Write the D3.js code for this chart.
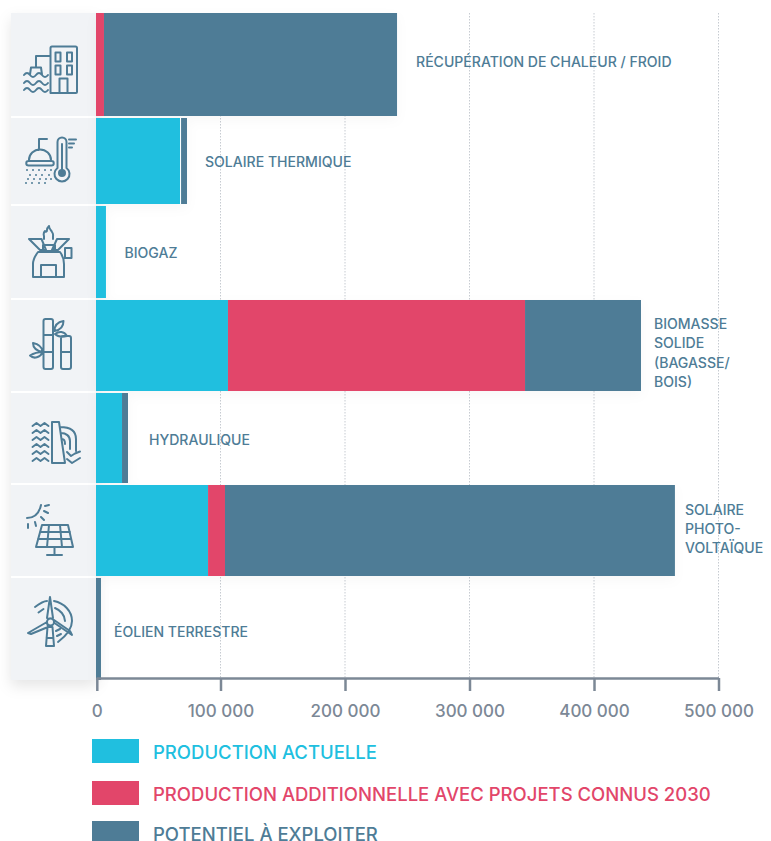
<!DOCTYPE html>
<html>
<head>
<meta charset="utf-8">
<script src="https://cdnjs.cloudflare.com/ajax/libs/d3/7.8.5/d3.min.js"></script>
<style>
  html, body { margin: 0; padding: 0; background: #fff; overflow: hidden; }
  svg { display: block; }
  text { font-family: Inter, "Noto Sans", sans-serif; }
</style>
</head>
<body>
<svg id="svg1" width="771" height="841"></svg>
<script>
var categories = ['RÉCUPÉRATION DE CHALEUR / FROID', 'SOLAIRE THERMIQUE', 'BIOGAZ',
  'BIOMASSE SOLIDE (BAGASSE/ BOIS)', 'HYDRAULIQUE', 'SOLAIRE PHOTO- VOLTAÏQUE', 'ÉOLIEN TERRESTRE'];
var production = [0, 68300, 8000, 106000, 20900, 90000, 0];
var additional = [6400, 0, 0, 238600, 0, 13600, 0];
var potential = [235400, 4800, 0, 93150, 4800, 361400, 4000];
var seriesKeys = ['production', 'additional', 'potential'];
var seriesNames = ['PRODUCTION ACTUELLE', 'PRODUCTION ADDITIONNELLE AVEC PROJETS CONNUS 2030', 'POTENTIEL À EXPLOITER'];
var seriesColors = ['#20bfdf', '#e2466a', '#4e7c96'];
var tickValues = [0, 100000, 200000, 300000, 400000, 500000];

// label lines, the long names wrap in the original
var labelLines = [['RÉCUPÉRATION DE CHALEUR / FROID'], ['SOLAIRE THERMIQUE'], ['BIOGAZ'],
  ['BIOMASSE', 'SOLIDE', '(BAGASSE/', 'BOIS)'], ['HYDRAULIQUE'], ['SOLAIRE', 'PHOTO-', 'VOLTAÏQUE'], ['ÉOLIEN TERRESTRE']];
var labelGap = [19, 18, 18.5, 13, 21, 10, 13];
var labelMid = [62, 162, 253, 353, 440, 529, 632];

// rows are not all the same height
var rowTop = [13, 118, 206, 300, 393, 485, 578];
var rowBottom = [116, 204, 298, 391, 483, 576, 680];

var svg = d3.select('svg');
var blue = seriesColors[2];

var defs = svg.append('defs');
var shadow = defs.append('filter').attr('id', 'panelShadow')
    .attr('x', '-30%').attr('y', '-10%').attr('width', '160%').attr('height', '120%');
shadow.append('feDropShadow').attr('dx', 0).attr('dy', 6).attr('stdDeviation', 7)
    .attr('flood-color', '#000').attr('flood-opacity', 0.1);
var soft = defs.append('filter').attr('id', 'softShadow')
    .attr('x', '-10%').attr('y', '-10%').attr('width', '120%').attr('height', '120%');
soft.append('feDropShadow').attr('dx', 0).attr('dy', 4).attr('stdDeviation', 6)
    .attr('flood-color', '#000').attr('flood-opacity', 0.05);

var x = d3.scaleLinear().domain([0, 500000]).range([96, 718.5]);
var yTop = d3.scaleOrdinal().domain(categories).range(rowTop);
var yBottom = d3.scaleOrdinal().domain(categories).range(rowBottom);

var rows = categories.map(function(c, i) {
  return {name: c, production: production[i], additional: additional[i], potential: potential[i]};
});

var stack = d3.stack().keys(seriesKeys)(rows);

//grey icon column with its shadow
svg.append('rect').attr('x', 11).attr('y', 13).attr('width', 85).attr('height', 667)
    .attr('fill', '#f1f3f6').attr('filter', 'url(#panelShadow)');
svg.selectAll('.sep').data(rowBottom.slice(0, -1)).enter().append('rect')
    .attr('x', 11).attr('width', 85)
    .attr('y', function(d) { return d; })
    .attr('height', 2).attr('fill', '#fff');

//dotted grid
svg.selectAll('.grid').data(tickValues.slice(1)).enter().append('line')
    .attr('x1', function(d) { return x(d); })
    .attr('x2', function(d) { return x(d); })
    .attr('y1', 13).attr('y2', 678)
    .attr('stroke', '#c6cbd1').attr('stroke-width', 1).attr('stroke-dasharray', '1.5 1.5');

//soft shadow under the bars
var under = svg.append('g').attr('filter', 'url(#softShadow)');
under.selectAll('rect').data(rows).enter().append('rect')
    .attr('x', x(0))
    .attr('y', function(d) { return yTop(d.name); })
    .attr('width', function(d) { return x(d.production + d.additional + d.potential) - x(0); })
    .attr('height', function(d) { return yBottom(d.name) - yTop(d.name); })
    .attr('fill', '#fff').attr('fill-opacity', 0.6);

//stacked bars
svg.selectAll('.serie').data(stack).enter().append('g')
    .attr('class', 'serie')
    .attr('fill', function(d, i) { return seriesColors[i]; })
    .selectAll('rect').data(function(d) { return d; }).enter().append('rect')
    .attr('x', function(d) { return x(d[0]); })
    .attr('y', function(d) { return yTop(d.data.name); })
    .attr('width', function(d) { return x(d[1]) - x(d[0]); })
    .attr('height', function(d) { return yBottom(d.data.name) - yTop(d.data.name); });

//white hairline on solaire thermique between the two parts
svg.append('line')
    .attr('x1', x(production[1]) - 0.5).attr('x2', x(production[1]) - 0.5)
    .attr('y1', rowTop[1]).attr('y2', rowBottom[1])
    .attr('stroke', '#fff').attr('stroke-width', 1);

//axis
var nf = d3.formatLocale({decimal: ',', thousands: ' ', grouping: [3], currency: ['', '']}).format(',d');
var axis = svg.append('g').attr('transform', 'translate(0,678)')
    .call(d3.axisBottom(x).tickValues(tickValues).tickFormat(nf).tickSize(13).tickSizeOuter(0).tickPadding(14));
axis.select('.domain').attr('stroke', '#7c8896').attr('stroke-width', 2.5);
axis.selectAll('.tick line').attr('stroke', '#7c8896').attr('stroke-width', 2.5);
axis.selectAll('.tick text').attr('fill', '#7c8896').attr('font-size', 17).attr('font-weight', 500)
    .style('font-family', 'Inter, sans-serif');
//zero tick sits a bit inside the line start in the original
axis.selectAll('.tick').filter(function(d) { return d === 0; })
    .attr('transform', 'translate(' + (x(0) + 1.3) + ',0)');

//category labels
categories.forEach(function(c, i) {
  var total = production[i] + additional[i] + potential[i];
  var lines = labelLines[i];
  var t = svg.append('text').attr('fill', blue).attr('font-size', 14.05).attr('font-weight', 500);
  lines.forEach(function(l, j) {
    t.append('tspan')
        .attr('x', x(total) + labelGap[i])
        .attr('y', labelMid[i] + 5 + (j - (lines.length - 1) / 2) * 19.3)
        .text(l);
  });
});

//legend
var legendY = d3.scaleOrdinal().domain(seriesKeys).range([751, 793, 833]);
var legend = svg.selectAll('.legend').data(seriesKeys).enter().append('g')
    .attr('transform', function(d) { return 'translate(92,' + legendY(d) + ')'; });
legend.append('rect').attr('x', 0).attr('y', -12).attr('width', 47).attr('height', 24)
    .attr('fill', function(d, i) { return seriesColors[i]; });
legend.append('text').attr('x', 61).attr('y', 8)
    .attr('font-size', 18.5).attr('font-weight', 500)
    .attr('fill', function(d, i) { return seriesColors[i]; })
    .text(function(d, i) { return seriesNames[i]; });

//icons, plain stroked paths
var icons = [
  // building and boat on waves
  'M52 46.5H75.5a1.5 1.5 0 0 1 1.5 1.5V92a1 1 0 0 1-1 1H50.5V48a1.5 1.5 0 0 1 1.5-1.5Z' +
  'M55.5 52.5h5v9h-5ZM67 52.5h5v9h-5ZM55.5 65.5h5v9h-5ZM67 65.5h5v9h-5ZM59.5 93V78.5h8V93' +
  'M50.5 56H36V67M31 67.5h10l1 7M31 67.5l-1 7' +
  'M24 75q3-4 6 0t6 0 6 0 6 0M24 83q3-4 6 0t6 0 6 0 6 0M24 90q3-4 6 0t6 0 6 0 6 0',
  // shower and thermometer
  'M47 139H39V150M29 160a11 10.5 0 0 1 22 0M28.5 161H51.5a2 2 0 0 1 0 4.5H28.5a2 2 0 0 1 0-4.5Z' +
  'M57.5 168V142a4.5 4.5 0 0 1 9 0V168a7.5 7.5 0 1 1-9 0ZM62 144V170' +
  'M69 139.5H76M69 143.5H74M69 147.5H72',
  // burner
  'M29 239H41.5L46 250H40ZM69 239H57L52 250H58Z' +
  'M44 239V236a5 5 0 0 1 1-5c1 1 2 1 2-1 0-2 1-3 2-4 0 3 2 4 3 6a5 5 0 0 1 1 4V239M43 245H55V251H43Z' +
  'M38 252H60C63 256 64 260 64 264V277H33V264C33 260 35 256 38 252ZM41 277V265H56V277M65 248h6.5v10h-6.5Z',
  // bamboo
  'M45.5 319H51a2 2 0 0 1 2 2V335H43.5V321a2 2 0 0 1 2-2ZM43.5 335V352H53V335M43.5 352V367a2 2 0 0 0 2 2H51a2 2 0 0 0 2-2V352' +
  'M63 336H69a2 2 0 0 1 2 2V352H61V338a2 2 0 0 1 2-2ZM61 352V367a2 2 0 0 0 2 2H69a2 2 0 0 0 2-2V352' +
  'M54.5 331c0-6 3-9 9-10 0 6-3 9-9 10ZM55 334c4-3 9-3 12 2-4 1-9 1-12-2ZM43 352c-1-5-5-8-10-9 0 5 4 8 10 9ZM43 352c-4 0-9 1-13 3.5 4 4 10 2 13-3.5Z',
  // dam
  'M52 422H59L65 463H52ZM60 427c9 0 16 3 16 12V451M61 433c5 0 9 3 9 8V449M62 439c2 0 3 2 3 5' +
  'M32.5 426l4-3 4 3 4-3 4 3M32.5 433l4-3 4 3 4-3 4 3M32.5 440l4-3 4 3 4-3 4 3M32.5 447l4-3 4 3 4-3 4 3M32.5 454l4-3 4 3 4-3 4 3M32.5 461l4-3 4 3 4-3 4 3' +
  'M67 452l4 4 4-2.5 5-2M67 459l5 4 4-2.5 4-2.5',
  // solar panel
  'M42 525H68L73 547H36ZM40 532H70M38 539H71M49 525L47 547M60 525L62 547M54.5 547V555M47 555H62' +
  'M27 518c7 0 12-4 14-13M45 506l4-1M44 511l4 2M41 517l3 3M35 522l1 4M28 524v4',
  // wind turbine
  'M50 597L47 618 50 619 53 618ZM47 622L28 633 31 634 48 627ZM53 622L72 635 70 631 54 620Z' +
  'M47.5 627H52.5L54 646H46ZM46.5 638H53.5' +
  'M54 601c10 2 18 10 18 20 0 8-6 15-14 21M55 608c5 2 10 7 10 13M47 601c-4 0-8 3-12 6M43.5 609l-5 3.5M57 636l4-2M56 631l4-2'
];
var iconG = svg.append('g').attr('fill', 'none').attr('stroke', blue)
    .attr('stroke-width', 2).attr('stroke-linejoin', 'round').attr('stroke-linecap', 'round');
iconG.selectAll('path').data(icons).enter().append('path').attr('d', function(d) { return d; });
// wind hub and thermometer bulb
iconG.append('circle').attr('cx', 50.5).attr('cy', 622).attr('r', 3.5).attr('fill', '#f1f3f6');
iconG.append('circle').attr('cx', 62).attr('cy', 173).attr('r', 3).attr('fill', blue);
var drops = [[27,170],[33,170],[39,170],[45,170],[51,170],[30,175],[36,175],[42,175],[49,175],[28,179],[34,179],[40,179],[46,179],[51,179],[26,183],[32,183],[39,183],[45,183]];
iconG.selectAll('.drop').data(drops).enter().append('circle')
    .attr('cx', function(d) { return d[0]; }).attr('cy', function(d) { return d[1]; })
    .attr('r', 1).attr('fill', blue).attr('stroke', 'none');
</script>
</body>
</html>
